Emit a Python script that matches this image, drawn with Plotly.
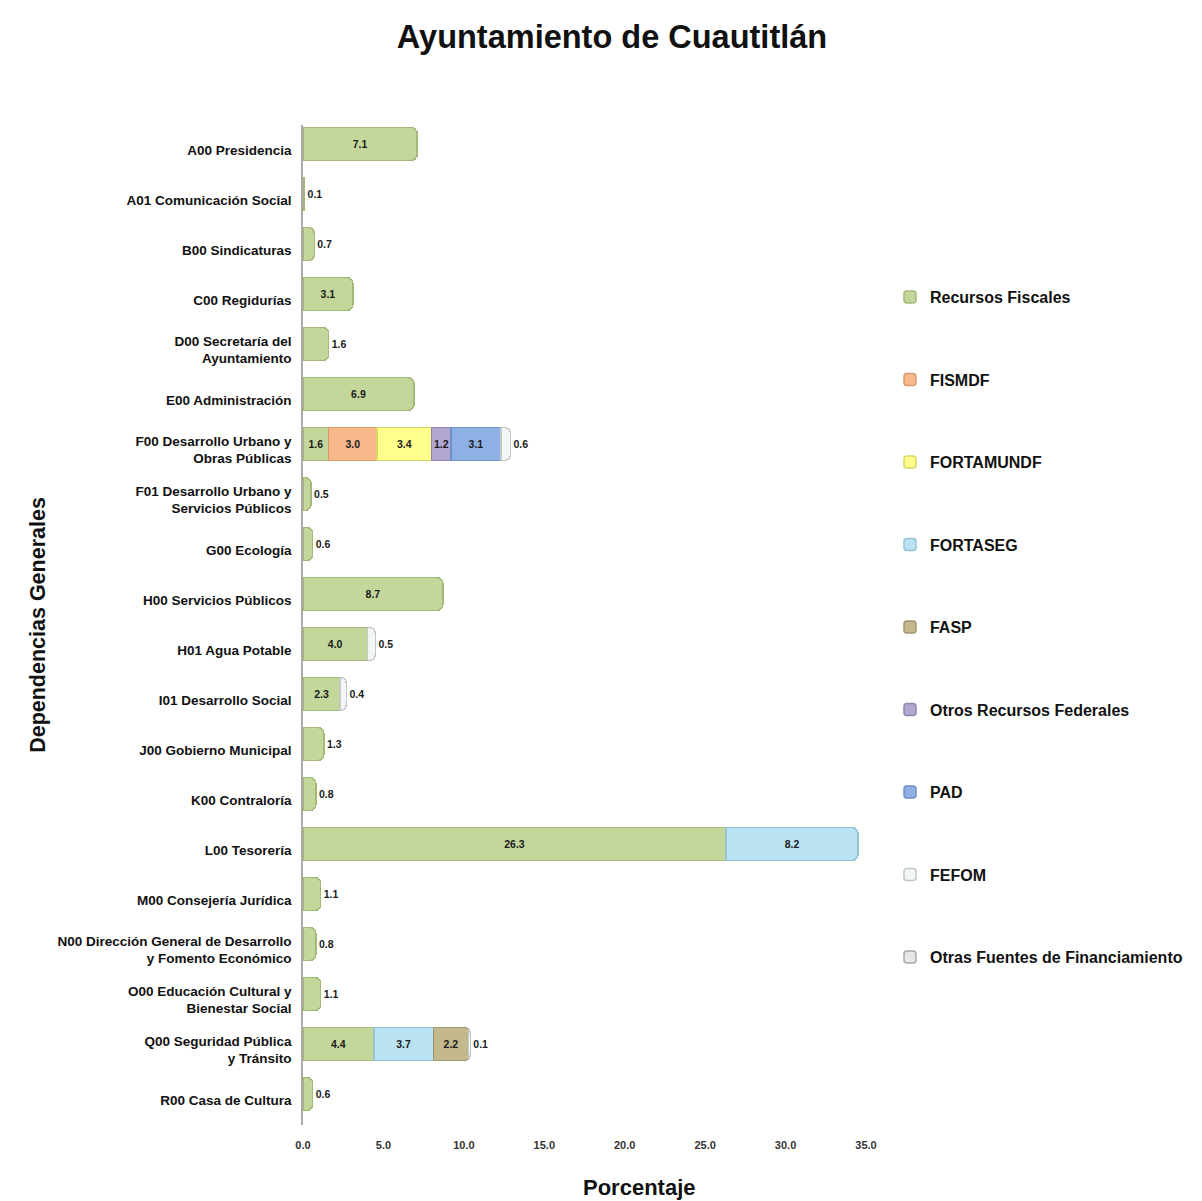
import plotly.graph_objects as go

categories = [
    "A00 Presidencia", "A01 Comunicación Social", "B00 Sindicaturas", "C00 Regidurías",
    "D00 Secretaría del<br>Ayuntamiento", "E00 Administración",
    "F00 Desarrollo Urbano y<br>Obras Públicas", "F01 Desarrollo Urbano y<br>Servicios Públicos",
    "G00 Ecología", "H00 Servicios Públicos", "H01 Agua Potable", "I01 Desarrollo Social",
    "J00 Gobierno Municipal", "K00 Contraloría", "L00 Tesorería", "M00 Consejería Jurídica",
    "N00 Dirección General de Desarrollo<br>y Fomento Económico",
    "O00 Educación Cultural y<br>Bienestar Social", "Q00 Seguridad Pública<br>y Tránsito",
    "R00 Casa de Cultura",
]

N = None
recursos_fiscales = [7.1, 0.1, 0.7, 3.1, 1.6, 6.9, 1.6, 0.5, 0.6, 8.7, 4.0, 2.3, 1.3, 0.8, 26.3, 1.1, 0.8, 1.1, 4.4, 0.6]
fismdf            = [N, N, N, N, N, N, 3.0, N, N, N, N, N, N, N, N, N, N, N, N, N]
fortamundf        = [N, N, N, N, N, N, 3.4, N, N, N, N, N, N, N, N, N, N, N, N, N]
fortaseg          = [N, N, N, N, N, N, N, N, N, N, N, N, N, N, 8.2, N, N, N, 3.7, N]
fasp              = [N, N, N, N, N, N, N, N, N, N, N, N, N, N, N, N, N, N, 2.2, N]
otros_federales   = [N, N, N, N, N, N, 1.2, N, N, N, N, N, N, N, N, N, N, N, N, N]
pad               = [N, N, N, N, N, N, 3.1, N, N, N, N, N, N, N, N, N, N, N, N, N]
fefom             = [N, N, N, N, N, N, 0.6, N, N, N, 0.5, 0.4, N, N, N, N, N, N, 0.1, N]
otras_fuentes     = [N] * 20

series = [
    ("Recursos Fiscales", recursos_fiscales, "#c4d79b", "#a3b879"),
    ("FISMDF", fismdf, "#f8b88b", "#d89a6c"),
    ("FORTAMUNDF", fortamundf, "#ffff8c", "#d8d86a"),
    ("FORTASEG", fortaseg, "#b9e3f2", "#96c2d2"),
    ("FASP", fasp, "#c4b88e", "#a0956c"),
    ("Otros Recursos Federales", otros_federales, "#b2a6d2", "#9084b0"),
    ("PAD", pad, "#8fb0e4", "#6e90c4"),
    ("FEFOM", fefom, "#f4f6f6", "#c0c8c8"),
    ("Otras Fuentes de Financiamiento", otras_fuentes, "#e6e6e6", "#a8a8a8"),
]

# last segment per row: small last segments get their label outside
last_idx = {}
for si, (_, vals, _, _) in enumerate(series):
    for ci, v in enumerate(vals):
        if v is not None:
            last_idx[ci] = si

FONT = "Arial, Liberation Sans, sans-serif"
BAR_W = 0.66
fig = go.Figure()
for si, (name, vals, color, line) in enumerate(series):
    positions = []
    for ci, v in enumerate(vals):
        if v is not None and last_idx.get(ci) == si and v < 2:
            positions.append("outside")
        else:
            positions.append("inside")
    fig.add_trace(go.Bar(
        y=categories, x=vals, name=name, orientation="h",
        width=BAR_W, offset=-BAR_W / 2 - 0.12,
        marker=dict(color=color, line=dict(color=line, width=1.5)),
        text=[("%.1f" % v) if v is not None else "" for v in vals],
        textposition=positions,
        textangle=0,
        insidetextanchor="middle",
        textfont=dict(family=FONT, size=10.5, color="#1a1a1a", weight="bold"),
        legendgroup=name,
        cliponaxis=False,
        hovertemplate="%{y}: %{x:.1f}<extra>" + name + "</extra>",
    ))

fig.update_layout(
    barmode="stack",
    barcornerradius=6,
    width=1202, height=1201,
    paper_bgcolor="white", plot_bgcolor="white",
    margin=dict(l=295, r=344, t=117, b=84, autoexpand=False),
    font=dict(family=FONT, color="#1a1a1a"),
    title=dict(text="<b>Ayuntamiento de Cuautitlán</b>", x=0.5025, xanchor="center",
               y=0.976, yanchor="middle", font=dict(size=32.5, color="#111111")),
    uniformtext=dict(minsize=10, mode="show"),
    legend=dict(x=1.0426, xanchor="left", y=0.845, yanchor="top",
                font=dict(size=16, color="#111111", weight="bold"),
                tracegroupgap=58.7, itemwidth=30, bgcolor="rgba(0,0,0,0)"),
    showlegend=True,
    annotations=[dict(text="<b>Porcentaje</b>", xref="paper", yref="paper",
                      x=(631 - 295) / 563, y=-(1179 - 1117) / 1000,
                      xanchor="center", yanchor="middle", showarrow=False,
                      font=dict(size=22, color="#111111"))],
)
fig.update_xaxes(range=[0, 35], dtick=5, tickformat=".1f", showgrid=False, zeroline=False,
                 showline=False, ticks="", automargin=False, ticklabelstandoff=12,
                 tickfont=dict(size=11, color="#333333", weight="bold"))
fig.update_yaxes(autorange="reversed", showgrid=False, showline=True, linecolor="#aaaaaa",
                 linewidth=1.5, ticks="", automargin=False, ticklabelstandoff=7,
                 tickfont=dict(size=13.5, color="#111111", weight="bold"),
                 title=dict(text="<b>Dependencias Generales</b>", font=dict(size=21.5, color="#111111"), standoff=6))

fig.write_html("out.html")
